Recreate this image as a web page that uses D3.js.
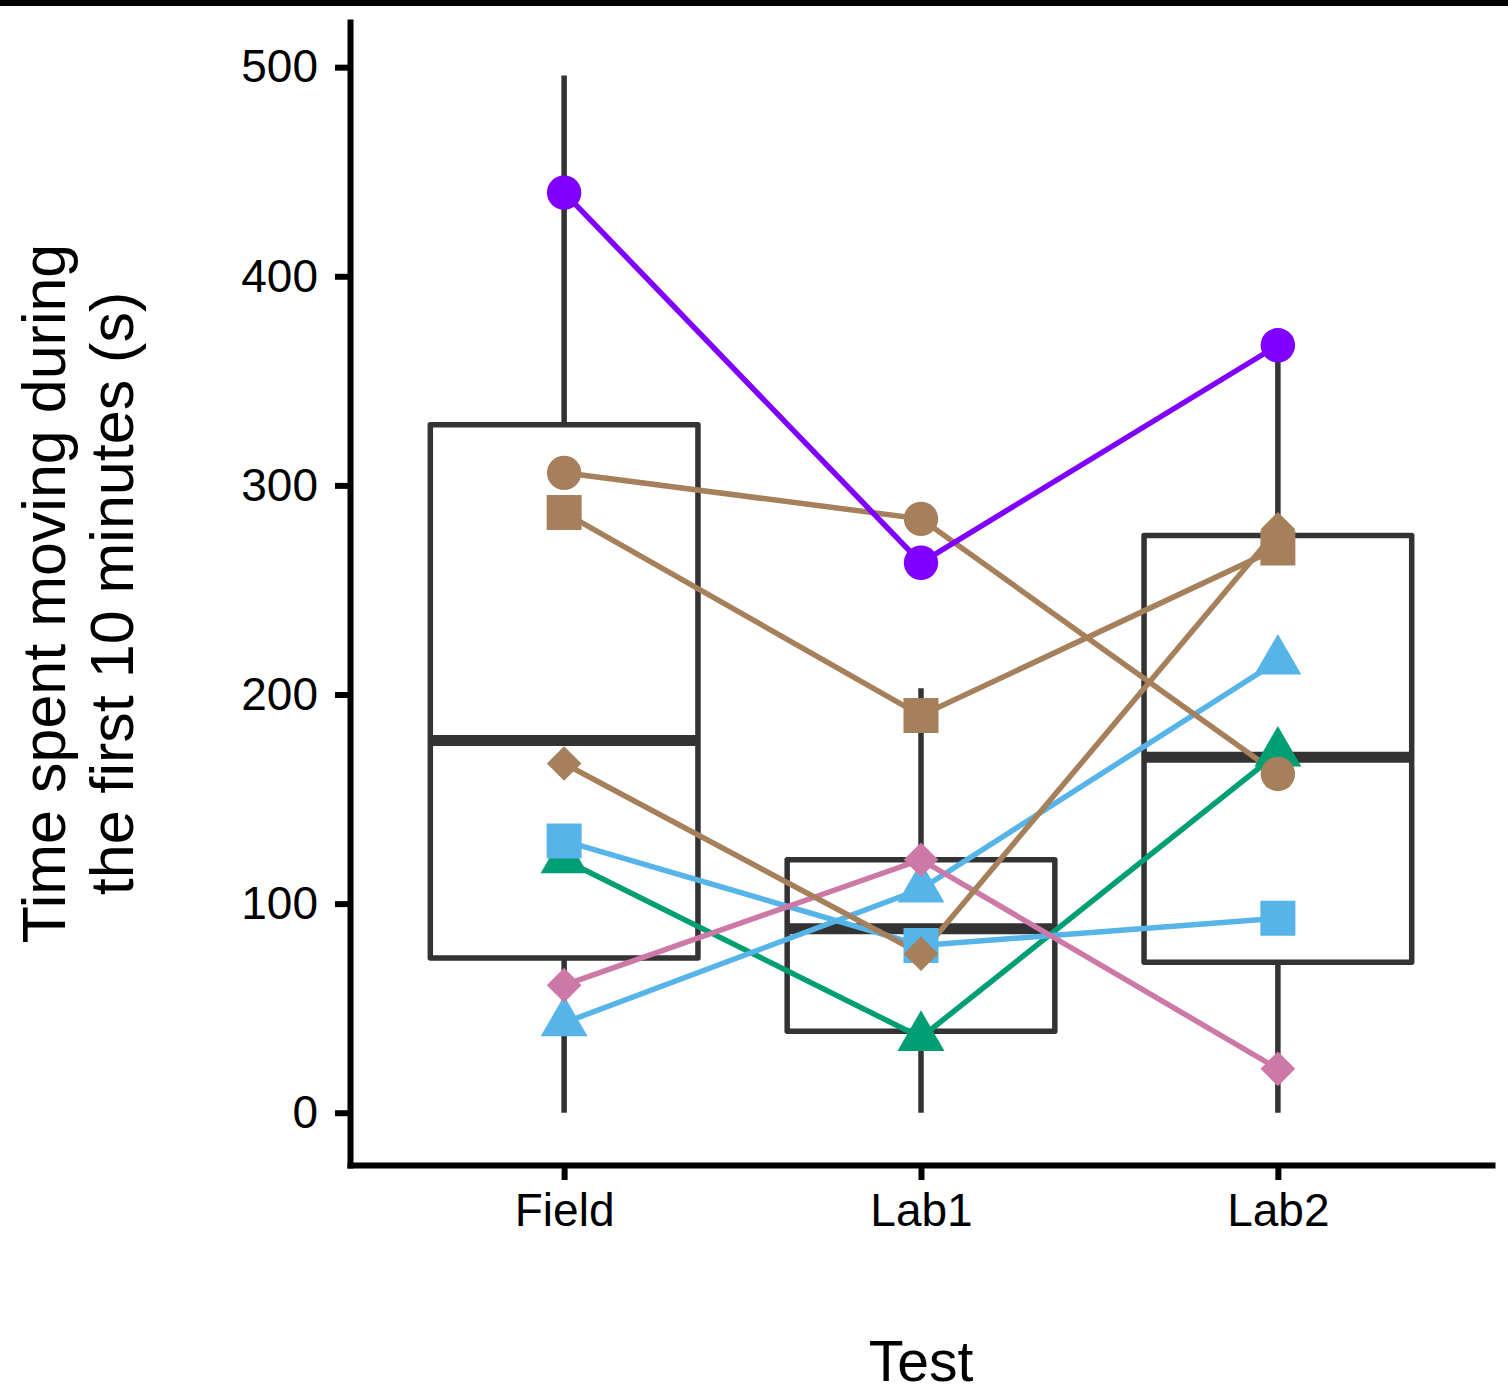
<!DOCTYPE html>
<html>
<head>
<meta charset="utf-8">
<script src="https://cdn.jsdelivr.net/npm/d3@7"></script>
<style>
    body { margin: 0; background: #fff; }
    svg text { font-family: "Liberation Sans", Arial, sans-serif; fill: #000; }
</style>
</head>
<body>
<svg id="chart" width="1508" height="1392"></svg>
<script>
// categories and tick labels
var tests = ['Field', 'Lab1', 'Lab2'];
var yTicks = [0, 100, 200, 300, 400, 500];

// boxplot stats per test
var boxLow = [0, 0, 0],
    boxQ1 = [74, 39, 72],
    boxMedian = [178, 88, 170],
    boxQ3 = [329, 121, 276],
    boxHigh = [496, 203, 367];

// individual fish, one value per test
var greenTriangle = [121, 36, 172],
    blueTriangle = [43, 107, 216],
    blueSquare = [130, 80, 93],
    pinkDiamond = [61, 121, 21],
    brownDiamond = [167, 76, 279],
    brownSquare = [287, 190, 270],
    brownCircle = [306, 284, 162],
    purpleCircle = [440, 263, 367];

var series = [
    {values: greenTriangle, color: '#009E73', shape: 'triangle'},
    {values: blueTriangle, color: '#56B4E9', shape: 'triangle'},
    {values: blueSquare, color: '#56B4E9', shape: 'square'},
    {values: pinkDiamond, color: '#CC79A7', shape: 'diamond'},
    {values: brownDiamond, color: '#A67F5B', shape: 'diamond'},
    {values: brownSquare, color: '#A67F5B', shape: 'square'},
    {values: brownCircle, color: '#A67F5B', shape: 'circle'},
    {values: purpleCircle, color: '#7F00FF', shape: 'circle'}
];

drawChart();

function drawChart() {

    var svg = d3.select('#chart'),
        plotLeft = 350,
        plotRight = 1492,
        plotTop = 22,
        plotBottom = 1165;

    // black strip along the top edge
    svg.append('rect')
        .attr('x', 0)
        .attr('y', 0)
        .attr('width', 1508)
        .attr('height', 6)
        .attr('fill', '#000');

    var x = d3.scalePoint().domain(tests).range([plotLeft, plotRight]).padding(0.6),
        y = d3.scaleLinear().domain([-25, 521.6]).range([plotBottom, plotTop]),
        boxWidth = x.step() * 0.75;

    var boxes = tests.map(function (t, i) {
        return {test: t, low: boxLow[i], q1: boxQ1[i], med: boxMedian[i], q3: boxQ3[i], high: boxHigh[i]};
    });

    var boxG = svg.append('g').selectAll('g').data(boxes)
        .enter()
        .append('g');

    boxG.append('line')
        .attr('x1', function (d) { return x(d.test); })
        .attr('x2', function (d) { return x(d.test); })
        .attr('y1', function (d) { return y(d.low); })
        .attr('y2', function (d) { return y(d.high); })
        .attr('stroke', '#333')
        .attr('stroke-width', 5.5);

    boxG.append('rect')
        .attr('x', function (d) { return x(d.test) - boxWidth / 2; })
        .attr('y', function (d) { return y(d.q3); })
        .attr('width', boxWidth)
        .attr('height', function (d) { return y(d.q1) - y(d.q3); })
        .attr('fill', '#fff')
        .attr('stroke', '#333')
        .attr('stroke-width', 5.5)
        .attr('stroke-linejoin', 'round');

    boxG.append('line')
        .attr('x1', function (d) { return x(d.test) - boxWidth / 2; })
        .attr('x2', function (d) { return x(d.test) + boxWidth / 2; })
        .attr('y1', function (d) { return y(d.med); })
        .attr('y2', function (d) { return y(d.med); })
        .attr('stroke', '#333')
        .attr('stroke-width', 11);

    // connecting lines first, points on top
    var line = d3.line()
        .x(function (v, i) { return x(tests[i]); })
        .y(function (v) { return y(v); });

    svg.append('g').selectAll('path').data(series)
        .enter()
        .append('path')
        .attr('d', function (s) { return line(s.values); })
        .attr('fill', 'none')
        .attr('stroke', function (s) { return s.color; })
        .attr('stroke-width', 5.5);

    var symbols = {
        circle: {type: d3.symbolCircle, size: 930, rot: 0},
        square: {type: d3.symbolSquare, size: 1225, rot: 0},
        triangle: {type: d3.symbolTriangle, size: 956, rot: 0},
        diamond: {type: d3.symbolSquare, size: 600, rot: 45}
    };

    var points = [];
    series.forEach(function (s) {
        s.values.forEach(function (v, i) {
            points.push({test: tests[i], value: v, color: s.color, shape: s.shape});
        });
    });

    svg.append('g').selectAll('path').data(points)
        .enter()
        .append('path')
        .attr('d', function (p) {
            return d3.symbol().type(symbols[p.shape].type).size(symbols[p.shape].size)();
        })
        .attr('transform', function (p) {
            return 'translate(' + x(p.test) + ',' + y(p.value) + ') rotate(' + symbols[p.shape].rot + ')';
        })
        .attr('fill', function (p) { return p.color; });

    // axes
    var yAxis = svg.append('g')
        .attr('transform', 'translate(' + plotLeft + ',0)')
        .call(d3.axisLeft(y).tickValues(yTicks).tickSize(15).tickSizeOuter(0).tickPadding(17));

    var xAxis = svg.append('g')
        .attr('transform', 'translate(0,' + plotBottom + ')')
        .call(d3.axisBottom(x).tickSize(15).tickSizeOuter(0).tickPadding(13));

    [yAxis, xAxis].forEach(function (axis) {
        axis.select('.domain')
            .attr('stroke', '#000')
            .attr('stroke-width', 6)
            .attr('stroke-linecap', 'square');
        axis.selectAll('.tick line')
            .attr('stroke', '#000')
            .attr('stroke-width', 6);
        axis.selectAll('.tick text')
            .attr('fill', '#000')
            .style('font-size', '46px');
    });

    // axis titles
    svg.append('text')
        .attr('x', (plotLeft + plotRight) / 2)
        .attr('y', 1381)
        .attr('text-anchor', 'middle')
        .style('font-size', '57px')
        .text('Test');

    var yTitle = svg.append('text')
        .attr('transform', 'translate(0,' + ((plotTop + plotBottom) / 2) + ') rotate(-90)')
        .attr('text-anchor', 'middle')
        .style('font-size', '61px');

    yTitle.append('tspan')
        .attr('x', 0)
        .attr('y', 65)
        .text('Time spent moving during');

    yTitle.append('tspan')
        .attr('x', 0)
        .attr('y', 133)
        .text('the first 10 minutes (s)');
}
</script>
</body>
</html>
